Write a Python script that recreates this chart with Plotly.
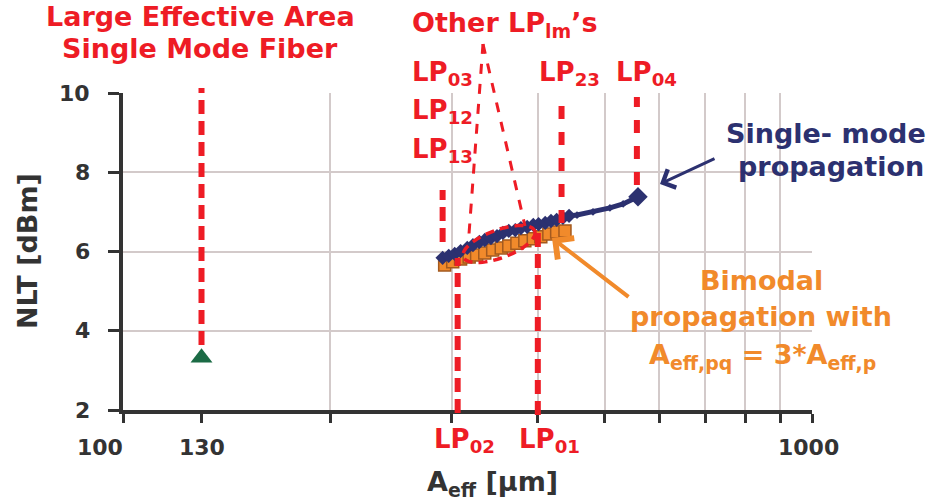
import math
import plotly.graph_objects as go

# ---- data -------------------------------------------------------------
# Single-mode propagation: effective area [µm²] vs nonlinear threshold [dBm]
single_aeff = [291, 297, 303, 309, 316, 322, 329, 335, 342, 349, 356, 363, 371,
               378, 386, 394, 401, 410, 418, 426, 435, 444,
               456, 481, 509, 532, 559]
single_nlt = [5.84, 5.89, 5.94, 6.01, 6.09, 6.16, 6.24, 6.29, 6.34, 6.39, 6.47,
              6.52, 6.54, 6.59, 6.62, 6.67, 6.69, 6.72, 6.77, 6.80, 6.85, 6.90,
              6.92, 7.00, 7.10, 7.20, 7.38]

# Bimodal propagation with A_eff,pq = 3*A_eff,p
bimodal_aeff = [293, 301, 309, 318, 326, 335, 344, 354, 363, 373, 383, 394,
                404, 415, 426, 438]
bimodal_nlt = [5.66, 5.74, 5.81, 5.86, 5.91, 5.96, 6.04, 6.09, 6.14, 6.21, 6.27,
               6.32, 6.37, 6.44, 6.49, 6.52]

# Large effective area single mode fiber
lmf_aeff = [130]
lmf_nlt = [3.32]

# Effective areas of the individual LP modes (dashed markers)
mode_names = ["LP03/12/13", "LP02", "LP01", "LP23", "LP04"]
mode_aeff = [291, 306, 400, 433, 557]

x_tick_vals = [100, 130, 1000]
x_tick_text = ["100", "130", "1000"]
x_minor_vals = [200, 300, 400, 500, 600, 700, 800, 900, 1000]
y_tick_vals = [2, 4, 6, 8, 10]

# ---- styling ----------------------------------------------------------
W, H = 937, 504
L, T, PW, PH = 123, 93, 689, 317          # plot area in pixels
RED = "#EE1C25"
NAVY = "#2C3170"
ORANGE = "#F18A2B"
DARK = "#333333"
GRID = "#D3CACA"
FONT = "DejaVu Sans"


def fx(px):
    return (px - L) / PW


def fy(py):
    return (T + PH - py) / PH


fig = go.Figure()

fig.add_trace(go.Scatter(
    x=bimodal_aeff, y=bimodal_nlt, mode="lines+markers",
    line=dict(color=ORANGE, width=4),
    marker=dict(symbol="square", size=12, color=ORANGE, opacity=1,
                line=dict(color="#A35A1F", width=1.5)),
    hoverinfo="skip", showlegend=False))

single_sizes = [11] * 22 + [6] * 4 + [15]
fig.add_trace(go.Scatter(
    x=single_aeff, y=single_nlt, mode="lines+markers",
    line=dict(color=NAVY, width=5),
    marker=dict(symbol="diamond", size=single_sizes, color=NAVY, opacity=1,
                line=dict(width=0)),
    hoverinfo="skip", showlegend=False))

fig.add_trace(go.Scatter(
    x=lmf_aeff, y=lmf_nlt, mode="markers",
    marker=dict(symbol="triangle-up", size=19, color="#1B6B45"),
    hoverinfo="skip", showlegend=False))

shapes = []
# white panels behind the callout texts
for x0, x1, y0, y1 in [(704, 812, 112, 190), (588, 812, 251, 383)]:
    shapes.append(dict(type="rect", xref="paper", yref="paper", layer="between",
                       x0=fx(x0), x1=fx(x1), y0=fy(y1), y1=fy(y0),
                       fillcolor="white", line=dict(width=0)))

# dashed verticals at the mode effective areas
mode_spans = [(190, 242), (258, 413), (226, 415), (97, 223), (97, 185)]
mode_dash = ["14px,7px", "14px,7px", "14px,7px", "13px,13px", "13px,13px"]
for a, (p0, p1), d in zip(mode_aeff, mode_spans, mode_dash):
    shapes.append(dict(type="line", xref="x", yref="paper", layer="above",
                       x0=a, x1=a, y0=fy(p1), y1=fy(p0),
                       line=dict(color=RED, width=6, dash=d)))
# dashed vertical at the large-area fiber
shapes.append(dict(type="line", xref="x", yref="paper", layer="above",
                   x0=lmf_aeff[0], x1=lmf_aeff[0], y0=fy(345), y1=fy(88),
                   line=dict(color=RED, width=6, dash="14px,7px")))

# ellipse around the other LP_lm modes
cx, cy, ea, eb, th = 499, 244, 38, 14, math.radians(20)
pts = []
for k in range(73):
    t = 2 * math.pi * k / 72
    dx, dy = ea * math.cos(t), eb * math.sin(t)
    X = cx + dx * math.cos(th) + dy * math.sin(th)
    Y = cy - dx * math.sin(th) + dy * math.cos(th)
    pts.append(f"{fx(X):.5f},{fy(Y):.5f}")
shapes.append(dict(type="path", xref="paper", yref="paper", layer="above",
                   path="M" + " L".join(pts) + " Z",
                   line=dict(color=RED, width=3.5, dash="9px,6px")))
# leader lines from the label to the ellipse
for (x0, y0), (x1, y1) in [((483, 44), (469, 234)), ((483, 44), (525, 226))]:
    shapes.append(dict(type="line", xref="paper", yref="paper", layer="above",
                       x0=fx(x0), y0=fy(y0), x1=fx(x1), y1=fy(y1),
                       line=dict(color=RED, width=3, dash="10px,10px")))

ann = []


def text(s, px, py, color, size=27, anchor="center", angle=0):
    ann.append(dict(text=s, xref="paper", yref="paper", x=fx(px), y=fy(py),
                    xanchor=anchor, yanchor="middle", showarrow=False,
                    textangle=angle,
                    font=dict(family=FONT, size=size, color=color, weight="bold")))


text("Large Effective Area", 200, 17, RED)
text("Single Mode Fiber", 200, 48, RED)
text("Other LP<sub>lm</sub>’s", 505, 24, RED)
text("LP<sub>03</sub>", 410, 74, RED, 26, "left")
text("LP<sub>12</sub>", 410, 112, RED, 26, "left")
text("LP<sub>13</sub>", 410, 150, RED, 26, "left")
text("LP<sub>23</sub>", 569, 74, RED, 26)
text("LP<sub>04</sub>", 646, 74, RED, 26)
text("LP<sub>02</sub>", 464, 440, RED, 26)
text("LP<sub>01</sub>", 549, 440, RED, 26)
text("Single- mode", 826, 133, NAVY)
text("propagation", 831, 166, NAVY)
text("Bimodal", 761, 280, ORANGE)
text("propagation with", 761, 316, ORANGE)
text("A<sub>eff,pq</sub> = 3*A<sub>eff,p</sub>", 762, 356, ORANGE)
text("A<sub>eff</sub> [µm]", 492, 484, DARK)
text("NLT [dBm]", 27, 251, DARK, 27, "center", -90)

# tick labels, placed against the axis scales
tick_font = dict(family=FONT, size=22, color=DARK, weight="bold")
x_label_shift = [-23, 0, -4]
for v, s, sh in zip(x_tick_vals, x_tick_text, x_label_shift):
    ann.append(dict(text=s, xref="x", yref="paper", x=math.log10(v), y=0,
                    xanchor="center", yanchor="middle", xshift=sh, yshift=-37,
                    showarrow=False, font=tick_font))
for v in y_tick_vals:
    ann.append(dict(text=str(v), xref="paper", yref="y", x=0, y=v,
                    xanchor="right", yanchor="middle", xshift=-31,
                    showarrow=False, font=tick_font))

# arrows pointing at the two series
for (tx, ty), (sx, sy), col, wd in [((660, 184), (716, 158), NAVY, 3),
                                    ((552, 238), (630, 298), ORANGE, 4)]:
    ann.append(dict(text="", xref="paper", yref="paper", x=fx(tx), y=fy(ty),
                    ax=sx - tx, ay=sy - ty, showarrow=True, arrowhead=4,
                    arrowsize=1.3, arrowwidth=wd, arrowcolor=col, standoff=0))

fig.update_layout(
    width=W, height=H,
    margin=dict(l=L, r=W - L - PW, t=T, b=H - T - PH, autoexpand=False),
    paper_bgcolor="white", plot_bgcolor="white",
    shapes=shapes, annotations=ann,
    xaxis=dict(
        type="log", range=[2, 3],
        tickmode="array", tickvals=x_tick_vals, showticklabels=False,
        ticks="outside", ticklen=9, tickwidth=3, tickcolor=DARK,
        showline=True, linewidth=4, linecolor=DARK, showgrid=False,
        zeroline=False,
        minor=dict(tickmode="array", tickvals=x_minor_vals, ticks="outside",
                   ticklen=9, tickwidth=3, tickcolor=DARK,
                   showgrid=True, gridcolor=GRID, gridwidth=1.5),
    ),
    yaxis=dict(
        range=[2, 10], tickmode="array", tickvals=y_tick_vals,
        showticklabels=False,
        ticks="outside", ticklen=11, tickwidth=3, tickcolor=DARK,
        showline=True, linewidth=4, linecolor=DARK,
        showgrid=True, gridcolor=GRID, gridwidth=1.5, zeroline=False,
    ),
)

fig.write_html("out.html")
